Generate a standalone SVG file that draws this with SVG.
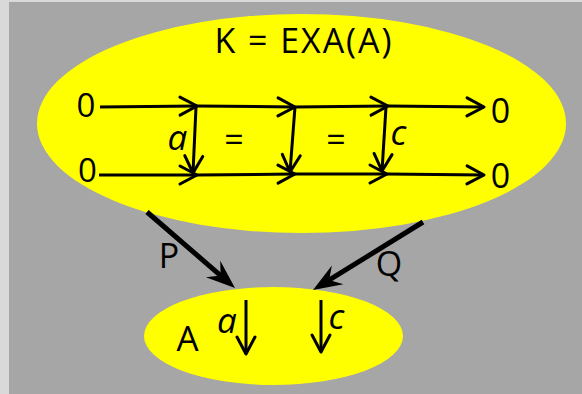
<svg xmlns="http://www.w3.org/2000/svg" width="582" height="394" viewBox="0 0 582 394">
<style>
.t{font-family:"Open Sans","Noto Sans","DejaVu Sans",sans-serif;fill:#000;text-anchor:middle}
.i{font-style:italic}
.thin{stroke:#000;stroke-width:3;fill:none;marker-end:url(#chev)}
.thick{stroke:#000;stroke-width:5;fill:none;marker-end:url(#big)}
.node{fill:#ffff00;stroke:none}
</style>
<defs>
<marker id="chev" markerUnits="userSpaceOnUse" orient="auto" overflow="visible" markerWidth="1" markerHeight="1" refX="0" refY="0">
<path d="M-17,-9 L0,0 L-17,9" fill="none" stroke="#000" stroke-width="3" stroke-linejoin="round" stroke-linecap="round"/>
</marker>
<marker id="big" markerUnits="userSpaceOnUse" orient="auto" overflow="visible" markerWidth="1" markerHeight="1" refX="-14" refY="0">
<path d="M0,0 L-29,-11 L-19,0 L-29,11 Z" fill="#000"/>
</marker>
</defs>
<rect x="0" y="0" width="582" height="394" fill="#d9d9d9"/>
<rect x="9" y="2" width="573" height="392" fill="#a6a6a6"/>
<g id="K">
<ellipse class="node" cx="301.5" cy="123.5" rx="264.5" ry="109.5"/>
<text class="t" x="303" y="53" font-size="34" textLength="177" lengthAdjust="spacing">K = EXA(A)</text>
<text class="t" x="86" y="117" font-size="33">0</text>
<text class="t" x="87.5" y="182" font-size="33">0</text>
<text class="t" x="500.5" y="123" font-size="34">0</text>
<text class="t" x="500.5" y="188" font-size="34">0</text>
<text class="t i" x="177.5" y="150" font-size="35">a</text>
<text class="t" x="234" y="152" font-size="34">=</text>
<text class="t" x="336" y="152" font-size="34">=</text>
<text class="t i" x="398.5" y="145" font-size="35">c</text>
</g>
<g id="A">
<ellipse class="node" cx="273.5" cy="336" rx="129.5" ry="49"/>
<text class="t" x="187.5" y="351" font-size="35">A</text>
<text class="t i" x="227" y="333" font-size="35">a</text>
<text class="t i" x="336.5" y="329" font-size="35">c</text>
</g>
<g id="connectors">
<path class="thin" d="M100,107 L197,106"/>
<path class="thin" d="M197,106 L295,107"/>
<path class="thin" d="M295,107 L388,106"/>
<path class="thin" d="M388,106 L484,107"/>
<path class="thin" d="M99,175 L197,175"/>
<path class="thin" d="M197,175 L295,174"/>
<path class="thin" d="M295,174 L387,174"/>
<path class="thin" d="M387,174 L484,175"/>
<path class="thin" d="M196,107 L193,173"/>
<path class="thin" d="M295,107 L290,172"/>
<path class="thin" d="M386,107 L382,171"/>
<path class="thin" d="M246,300 L246,354"/>
<path class="thin" d="M321,300 L321,352"/>
<path class="thick" d="M147,212 L224.4,278.8"/>
<path class="thick" d="M423,222 L324.9,282.7"/>
<text class="t" x="169" y="268" font-size="34">P</text>
<text class="t" x="389" y="276" font-size="34">Q</text>
</g>
</svg>
